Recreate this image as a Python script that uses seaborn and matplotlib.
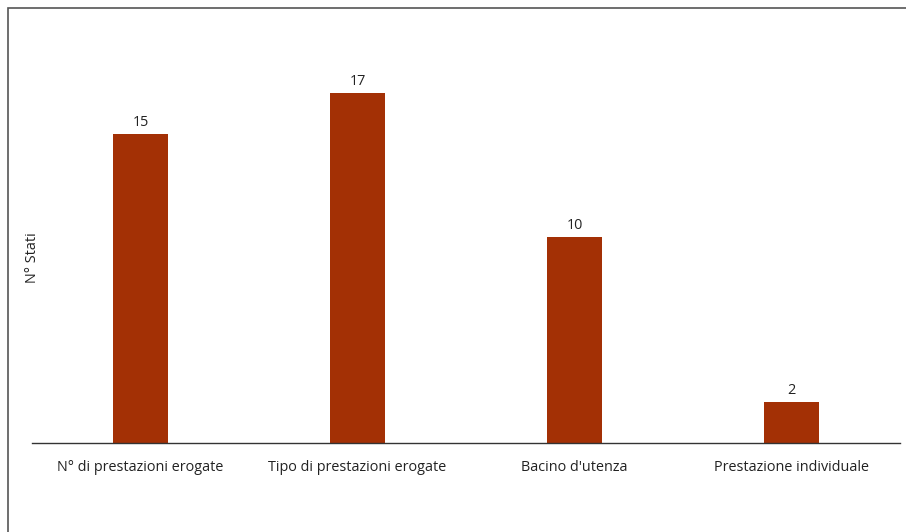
import matplotlib
matplotlib.use("Agg")
import matplotlib.pyplot as plt
import seaborn as sns
import pandas as pd
from matplotlib.patches import Rectangle

categories = ["N° di prestazioni erogate", "Tipo di prestazioni erogate", "Bacino d'utenza", "Prestazione individuale"]
values = [15, 17, 10, 2]
bar_color = "#A33005"

sns.set_theme(style="white")
plt.rcParams['font.family'] = ['Open Sans', 'DejaVu Sans']

W, H = 906, 532
fig = plt.figure(figsize=(W / 100, H / 100), dpi=100)
ax = fig.add_axes([32 / W, 1 - 443 / H, (900 - 32) / W, (443 - 31) / H])

df = pd.DataFrame({"cat": categories, "val": values})
sns.barplot(data=df, x="cat", y="val", color=bar_color, saturation=1, width=0.25,
            linewidth=0, ax=ax)

ax.set_ylim(0, 20)
ax.set_xlim(-0.5, 3.5)
for c in ax.containers:
    ax.bar_label(c, labels=[str(v) for v in values], padding=3, fontsize=10.4, color="#222222")

ax.set_xlabel("")
ax.set_ylabel("N° Stati", fontsize=10.4, color="#222222", va="center", ha="center")
ax.yaxis.set_label_coords(0.0, 0.449)
ax.set_yticks([])
ax.tick_params(axis="x", length=0, pad=12, labelsize=10.4, labelcolor="#222222")
for s in ["top", "right", "left"]:
    ax.spines[s].set_visible(False)
ax.spines["bottom"].set_color("#333333")
ax.spines["bottom"].set_linewidth(1.0)

fig.patches.append(Rectangle((8 / W, -0.1), 1.2, 1 - 8 / H + 0.1, transform=fig.transFigure,
                             fill=False, edgecolor="#555555", linewidth=1.2))

fig.savefig("out.png", dpi=100)
